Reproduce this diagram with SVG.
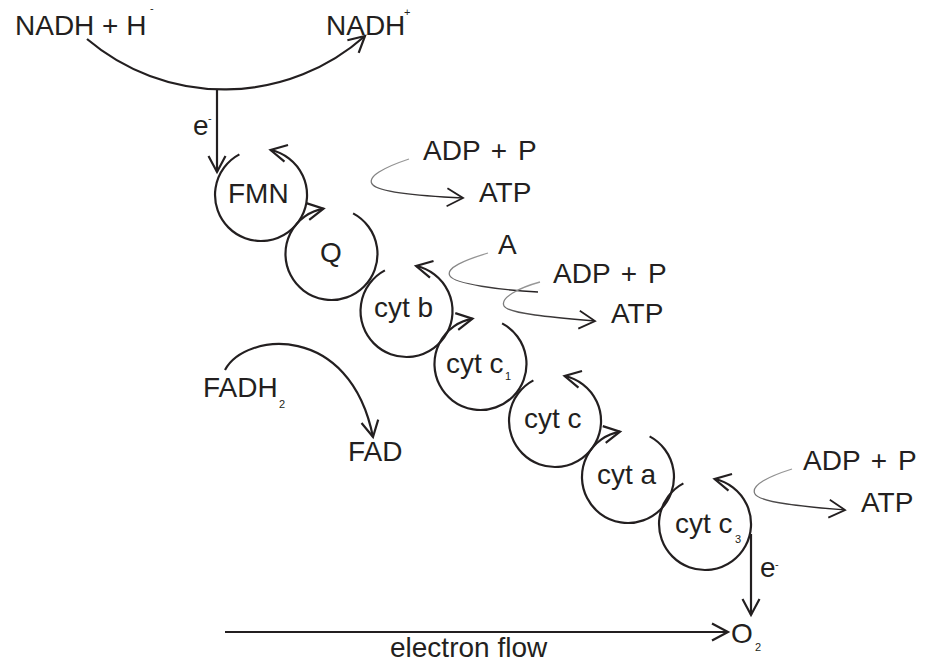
<svg xmlns="http://www.w3.org/2000/svg" width="930" height="662" viewBox="0 0 930 662">
<style>
.t{font-family:"Liberation Sans",Arial,Helvetica,sans-serif;font-size:28px;fill:#231f20}
.s{font-family:"Liberation Sans",Arial,Helvetica,sans-serif;font-size:11px;fill:#231f20}
.ln{fill:none;stroke:#231f20;stroke-width:2.2;marker-end:url(#ah)}
.ring{fill:none;stroke:#231f20;stroke-width:2.2;marker-end:url(#ah)}
.gc{fill:none;stroke:url(#gg);stroke-width:1.3;marker-end:url(#ahs)}
</style>
<defs>
<marker id="ah" markerUnits="userSpaceOnUse" viewBox="-20 -12 24 24" markerWidth="24" markerHeight="24" refX="0" refY="0" orient="auto" overflow="visible">
<path d="M-16,-8.5 L0,0 L-16,8.5" fill="none" stroke="#231f20" stroke-width="2.2" stroke-linejoin="miter"/>
</marker>
<marker id="ahs" markerUnits="userSpaceOnUse" viewBox="-20 -12 24 24" markerWidth="24" markerHeight="24" refX="0" refY="0" orient="auto" overflow="visible">
<path d="M-16,-9 L0,0 L-16,9" fill="none" stroke="#231f20" stroke-width="1.8"/>
</marker>
<linearGradient id="gg" x1="0" y1="0" x2="0" y2="1">
<stop offset="0" stop-color="#9a9a9a"/>
<stop offset="0.6" stop-color="#7a7a7a"/>
<stop offset="1" stop-color="#231f20"/>
</linearGradient>
</defs>

<g id="connectors">
<path class="ln" d="M87,39 A212,212 0 0 0 365,36"/>
<path class="ln" d="M217,89 L217,172"/>
<path class="ln" d="M225,370 C245,332 350,322 373,437"/>
<path class="ln" d="M751,534 L751,615"/>
<path class="ln" d="M225,632 L728,632"/>
<path class="gc" d="M409,159 C385,167 365,177 373,185 C380,192 420,196 463,198"/>
<path class="gc" d="M488,253 C465,260 445,268 450,276 C455,284 500,290 538,292" style="marker-end:none"/>
<path class="gc" d="M540,282 C518,288 500,298 504,306 C508,314 560,318 595,321"/>
<path class="gc" d="M792,469 C770,476 750,485 755,494 C760,503 810,507 845,510"/>
</g>

<g id="nadh-h">
<text class="t" x="15" y="35">NADH + H</text>
<text class="s" x="150" y="12">-</text>
</g>
<g id="nadh-plus">
<text class="t" x="326" y="35">NADH</text>
<text class="s" x="404" y="16">+</text>
</g>
<g id="e-top">
<text class="t" x="193" y="135">e</text>
<text class="s" x="208" y="122">-</text>
</g>

<g id="FMN">
<path class="ring" d="M239.4,154.4 A46,46 0 1 0 270.6,150"/>
<text class="t" x="228" y="203">FMN</text>
</g>
<g id="Q">
<path class="ring" d="M353.1,213.4 A46,46 0 1 1 323.5,208.7"/>
<text class="t" x="320" y="262">Q</text>
</g>
<g id="cytb">
<path class="ring" d="M384.9,270.4 A46,46 0 1 0 416.1,266"/>
<text class="t" x="374" y="317">cyt b</text>
</g>
<g id="cytc1">
<path class="ring" d="M502.1,323.4 A46,46 0 1 1 472.5,318.7"/>
<text class="t" x="446" y="373">cyt c</text>
<text class="s" x="505" y="380">1</text>
</g>
<g id="cytc">
<path class="ring" d="M533.4,380.4 A46,46 0 1 0 564.6,376"/>
<text class="t" x="524" y="428">cyt c</text>
</g>
<g id="cyta">
<path class="ring" d="M649.6,436.4 A46,46 0 1 1 620,431.7"/>
<text class="t" x="597" y="484">cyt a</text>
</g>
<g id="cytc3">
<path class="ring" d="M683.4,483.4 A46,46 0 1 0 714.6,479"/>
<text class="t" x="675" y="533">cyt c</text>
<text class="s" x="735" y="543">3</text>
</g>

<g id="atp1">
<text class="t" x="423" y="160" word-spacing="3">ADP + P</text>
<text class="t" x="479" y="202">ATP</text>
</g>
<g id="A">
<text class="t" x="498" y="254">A</text>
</g>
<g id="atp2">
<text class="t" x="553" y="283" word-spacing="3">ADP + P</text>
<text class="t" x="611" y="323">ATP</text>
</g>
<g id="atp3">
<text class="t" x="803" y="470" word-spacing="3">ADP + P</text>
<text class="t" x="861" y="512">ATP</text>
</g>

<g id="FADH2">
<text class="t" x="203" y="397">FADH</text>
<text class="s" x="279" y="408">2</text>
</g>
<g id="FAD">
<text class="t" x="348" y="461">FAD</text>
</g>

<g id="e-bottom">
<text class="t" x="760" y="577">e</text>
<text class="s" x="775" y="568">-</text>
</g>
<g id="O2">
<text class="t" x="731" y="643">O</text>
<text class="s" x="755" y="651">2</text>
</g>
<g id="electron-flow">
<text class="t" x="390" y="657">electron flow</text>
</g>
</svg>
